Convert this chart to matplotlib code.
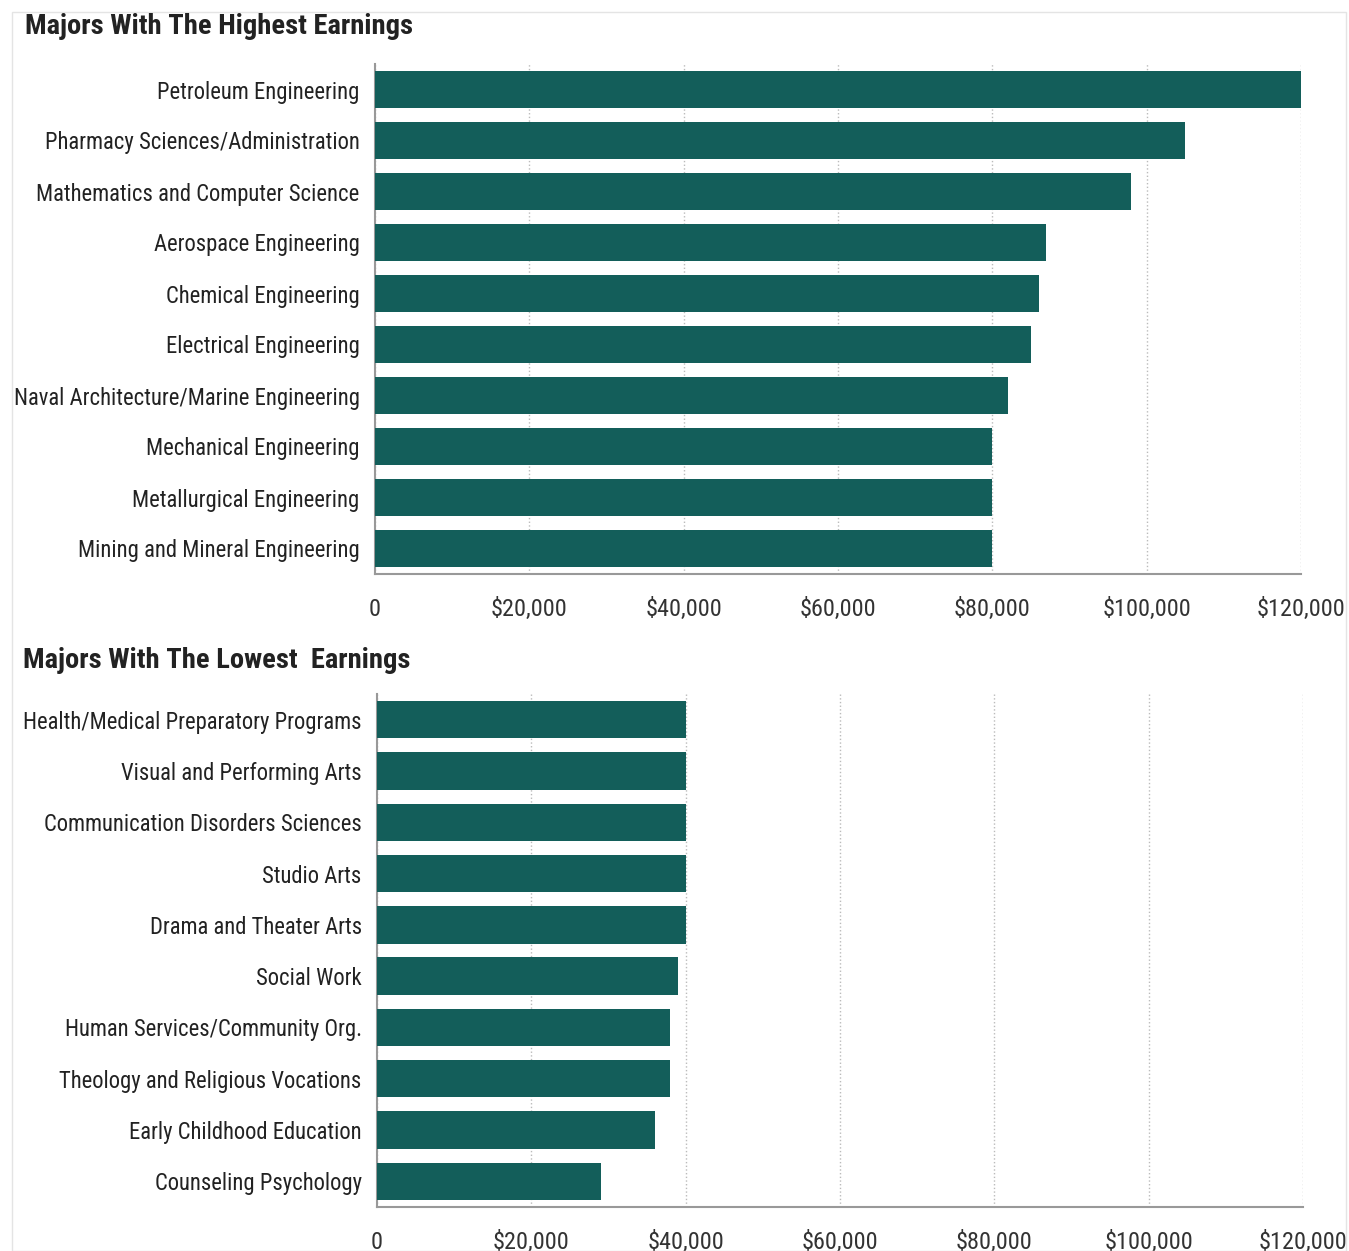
import matplotlib.pyplot as plt
from matplotlib.patches import Rectangle
from matplotlib.ticker import FuncFormatter

plt.rcParams['font.family'] = ['Roboto Condensed', 'DejaVu Sans']
plt.rcParams['font.stretch'] = 'condensed'

# Data
high_majors = ['Petroleum Engineering', 'Pharmacy Sciences/Administration',
               'Mathematics and Computer Science', 'Aerospace Engineering',
               'Chemical Engineering', 'Electrical Engineering',
               'Naval Architecture/Marine Engineering', 'Mechanical Engineering',
               'Metallurgical Engineering', 'Mining and Mineral Engineering']
high_earnings = [120000, 105000, 98000, 87000, 86000, 85000, 82000, 80000, 80000, 80000]

low_majors = ['Health/Medical Preparatory Programs', 'Visual and Performing Arts',
              'Communication Disorders Sciences', 'Studio Arts',
              'Drama and Theater Arts', 'Social Work',
              'Human Services/Community Org.', 'Theology and Religious Vocations',
              'Early Childhood Education', 'Counseling Psychology']
low_earnings = [40000, 40000, 40000, 40000, 40000, 39000, 38000, 38000, 36000, 29000]

ticks = [0, 20000, 40000, 60000, 80000, 100000, 120000]
bar_color = '#135e5a'

W, H = 1349, 1251
fig = plt.figure(figsize=(W / 100, H / 100), dpi=100)

# light frame around the whole graphic
fig.patches.append(Rectangle((12 / W, 0), (1346 - 12) / W, 1 - 12 / H,
                             transform=fig.transFigure, fill=False,
                             edgecolor='#e4e4e4', linewidth=1))


def money(x, pos):
    return '0' if x == 0 else '${:,.0f}'.format(x)


def panel(rect, majors, vals, title, title_xy):
    ax = fig.add_axes(rect)
    ax.barh(range(len(majors)), vals, height=0.73, color=bar_color, zorder=3)
    ax.set_ylim(len(majors) - 0.5, -0.5)
    ax.set_xlim(0, 120000)
    ax.set_yticks(range(len(majors)))
    ax.set_yticklabels(majors, fontsize=16.3, color='#222222')
    ax.set_xticks(ticks)
    ax.xaxis.set_major_formatter(FuncFormatter(money))
    ax.tick_params(axis='x', labelsize=17.5, labelcolor='#333333', length=0, pad=17)
    ax.tick_params(axis='y', length=0, pad=11)
    ax.grid(axis='x', linestyle=':', color='#bbbbbb', linewidth=1, zorder=0)
    for s in ['top', 'right']:
        ax.spines[s].set_visible(False)
    for s in ['left', 'bottom']:
        ax.spines[s].set_color('#999999')
        ax.spines[s].set_linewidth(1.5)
    fig.text(title_xy[0] / W, 1 - title_xy[1] / H, title, fontsize=20.5,
             fontweight='bold', color='#222222', va='center', ha='left')
    return ax


panel([375 / W, 1 - 574 / H, (1301 - 375) / W, (574 - 64) / H],
      high_majors, high_earnings, 'Majors With The Highest Earnings', (25, 27))
panel([377 / W, 1 - 1207 / H, (1303 - 377) / W, (1207 - 694) / H],
      low_majors, low_earnings, 'Majors With The Lowest  Earnings', (23, 660))

fig.savefig('out.png', dpi=100)
